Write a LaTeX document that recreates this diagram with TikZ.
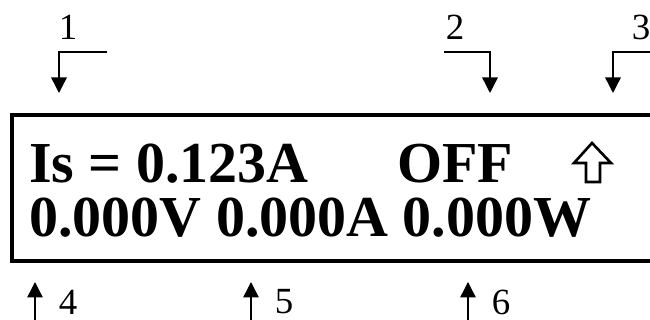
\documentclass[tikz,border=0pt]{standalone}
\usepackage{fontspec}
\setmainfont{Liberation Serif}
\usetikzlibrary{arrows.meta}

\begin{document}
\begin{tikzpicture}[x=0.02cm,y=-0.02cm,
    ptr/.style={line width=0.8pt,-{Triangle[length=0.31cm,width=0.31cm]}},
    lcd/.style={anchor=base west,inner sep=0pt,font=\fontsize{33}{33}\selectfont\bfseries},
    num/.style={inner sep=0pt,font=\fontsize{21}{21}\selectfont}]
            \useasboundingbox (0,0) rectangle (650,320);

            % display frame and its two lines
            \draw[line width=2pt] (660,115) -- (12,115) -- (12,261) -- (660,261);
            \node[lcd] (set) at (29,183) {Is = 0.123A};
            \node[lcd] (state) at (397,183) {OFF};
            \node[lcd] (meas) at (29,237) {0.000V 0.000A 0.000W};
            \draw[line width=1.5pt,fill=white] (592,143) -- (611,163) -- (600,163) -- (600,182)
                -- (586,182) -- (586,163) -- (574,163) -- cycle;

            % pointers from above
            \coordinate (p1a) at (107,52);
            \coordinate (p1b) at (59,52);
            \coordinate (p1c) at (59,93);
            \coordinate (p2a) at (444,52);
            \coordinate (p2b) at (490,52);
            \coordinate (p2c) at (490,93);
            \coordinate (p3a) at (660,52);
            \coordinate (p3b) at (613,52);
            \coordinate (p3c) at (613,93);
            \foreach \p in {1,2,3}{
                \draw[ptr] (p\p a) -- (p\p b) -- (p\p c);
            }
            \node[num] (n1) at (68,27) {1};
            \node[num] (n2) at (455,27) {2};
            \node[num] (n3) at (641,27) {3};

            % pointers from below
            \foreach \p/\x in {4/35,5/251,6/468}{
                \coordinate (q\p a) at (\x,322);
                \coordinate (q\p b) at (\x,282);
                \draw[ptr] (q\p a) -- (q\p b);
                \node[num] (n\p) at (\x+33,302) {\p};
            }
        \end{tikzpicture}
\end{document}
